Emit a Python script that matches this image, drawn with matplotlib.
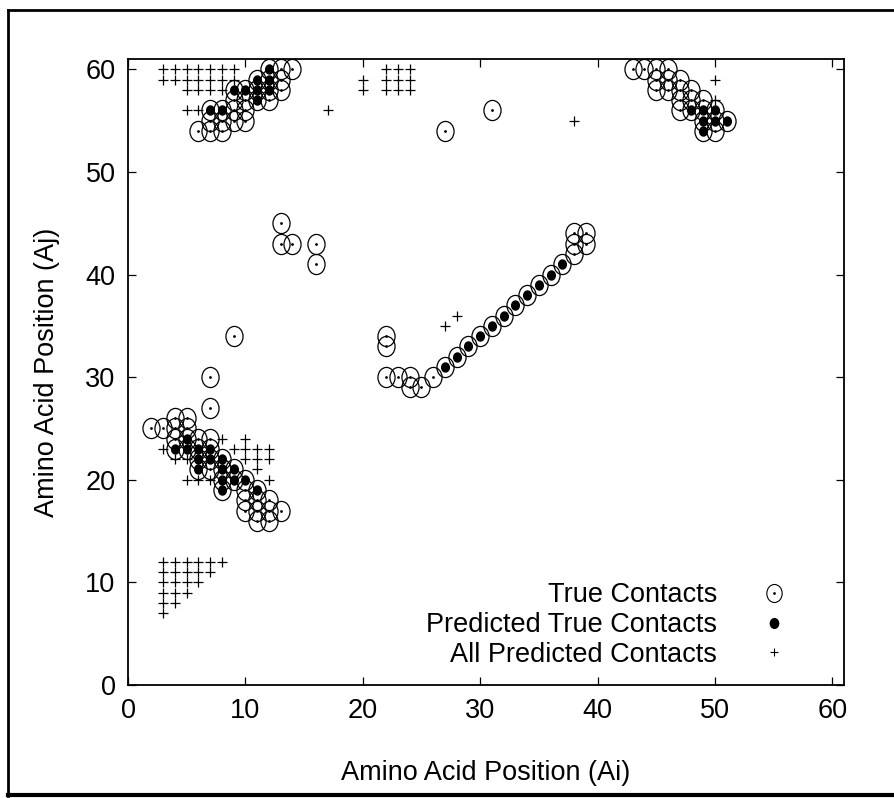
import matplotlib
matplotlib.use("Agg")
import matplotlib.pyplot as plt
from matplotlib.path import Path
from matplotlib.lines import Line2D
from matplotlib.legend_handler import HandlerTuple
import matplotlib.transforms as mtransforms

plt.rcParams['font.family'] = ['Liberation Sans', 'DejaVu Sans']

# ---------------- data ----------------
true_x = [6, 7, 8, 7, 8, 9, 10, 7, 8, 9, 10, 9, 10, 11, 12, 9, 10, 11, 12, 13,
          11, 12, 13, 12, 13, 14,
          43, 44, 45, 46, 45, 46, 47, 45, 46, 47, 48, 47, 48, 49, 47, 48, 49, 50,
          49, 50, 51, 49, 50,
          27, 31,
          13, 13, 14, 16, 16, 9, 7, 7,
          22, 22, 22, 23, 24, 24, 25, 26,
          27, 28, 29, 30, 31, 32, 33, 34, 35, 36, 37, 38, 38, 38, 39, 39,
          2, 3, 4, 5, 4, 5, 4, 5, 6, 7, 4, 5, 6, 7, 6, 7, 8, 6, 7, 8, 9,
          8, 9, 10, 8, 10, 11, 10, 11, 12, 10, 11, 12, 13, 11, 12]
true_y = [54, 54, 54, 55, 55, 55, 55, 56, 56, 56, 56, 57, 57, 57, 57, 58, 58, 58, 58, 58,
          59, 59, 59, 60, 60, 60,
          60, 60, 60, 60, 59, 59, 59, 58, 58, 58, 58, 57, 57, 57, 56, 56, 56, 56,
          55, 55, 55, 54, 54,
          54, 56,
          45, 43, 43, 43, 41, 34, 30, 27,
          34, 33, 30, 30, 30, 29, 29, 30,
          31, 32, 33, 34, 35, 36, 37, 38, 39, 40, 41, 42, 43, 44, 43, 44,
          25, 25, 26, 26, 25, 25, 24, 24, 24, 24, 23, 23, 23, 23, 22, 22, 22, 21, 21, 21, 21,
          20, 20, 20, 19, 19, 19, 18, 18, 18, 17, 17, 17, 17, 16, 16]

pred_true_x = [7, 8, 11, 9, 10, 11, 12, 11, 12, 12,
               48, 49, 50, 49, 50, 51, 49,
               27, 28, 29, 30, 31, 32, 33, 34, 35, 36, 37,
               5, 4, 5, 6, 7, 6, 7, 8, 6, 8, 9, 8, 9, 10, 8, 11]
pred_true_y = [56, 56, 57, 58, 58, 58, 58, 59, 59, 60,
               56, 56, 56, 55, 55, 55, 54,
               31, 32, 33, 34, 35, 36, 37, 38, 39, 40, 41,
               24, 23, 23, 23, 23, 22, 22, 22, 21, 21, 21, 20, 20, 20, 19, 19]

all_pred_x = [3, 4, 5, 6, 7, 8, 9, 3, 4, 5, 6, 7, 8, 9, 5, 6, 7, 8, 5, 6,
              20, 20, 22, 23, 24, 22, 23, 24, 22, 23, 24, 17, 38, 50, 50,
              27, 28,
              3, 8, 10, 9, 10, 11, 12, 4, 5, 10, 11, 12, 11, 5, 6, 7, 12,
              3, 4, 5, 6, 7, 8, 3, 4, 5, 6, 7, 3, 4, 5, 6, 3, 4, 5, 3, 4, 3]
all_pred_y = [60, 60, 60, 60, 60, 60, 60, 59, 59, 59, 59, 59, 59, 59, 58, 58, 58, 58, 56, 56,
              59, 58, 60, 60, 60, 59, 59, 59, 58, 58, 58, 56, 55, 59, 57,
              35, 36,
              23, 24, 24, 23, 23, 23, 23, 22, 22, 22, 22, 22, 21, 20, 20, 20, 20,
              12, 12, 12, 12, 12, 12, 11, 11, 11, 11, 11, 10, 10, 10, 10, 9, 9, 9, 8, 8, 7]

labels = ["True Contacts", "Predicted True Contacts", "All Predicted Contacts"]
x_label = "Amino Acid Position (Ai)"
y_label = "Amino Acid Position (Aj)"
ticks = [0, 10, 20, 30, 40, 50, 60]

# ---------------- figure ----------------
W, H = 894, 798
FS = 19.5
fig = plt.figure(figsize=(W / 100, H / 100), dpi=100)
ax = fig.add_axes([128 / W, 1 - 685 / H, (844 - 128) / W, (685 - 59) / H])

# elliptical marker (slightly narrower than tall)
ell = Path.unit_circle().transformed(mtransforms.Affine2D().scale(0.85, 1.0))

ax.plot(all_pred_x, all_pred_y, linestyle='none', marker='+', markersize=6.5,
        markeredgewidth=0.9, color='black', zorder=2)
ax.plot(true_x, true_y, linestyle='none', marker=ell, markersize=14.5,
        markerfacecolor='none', markeredgecolor='black', markeredgewidth=0.9, zorder=3)
ax.plot(true_x, true_y, linestyle='none', marker='o', markersize=1.0,
        color='black', zorder=3)
ax.plot(pred_true_x, pred_true_y, linestyle='none', marker=ell, markersize=6.5,
        color='black', zorder=4)

ax.set_xlim(0, 61)
ax.set_ylim(0, 61)
ax.set_xticks(ticks)
ax.set_yticks(ticks)
ax.tick_params(direction='in', length=6, width=0.9, top=True, right=True,
               labelsize=FS, pad=9)
for s in ax.spines.values():
    s.set_linewidth(1.3)

ax.set_xlabel(x_label, fontsize=FS, labelpad=26)
ax.set_ylabel(y_label, fontsize=FS, labelpad=18)

# legend handles
h_circ = Line2D([], [], linestyle='none', marker=ell, markersize=13, markerfacecolor='none',
                markeredgecolor='black', markeredgewidth=0.8)
h_dot = Line2D([], [], linestyle='none', marker='o', markersize=1.0, color='black')
h_fill = Line2D([], [], linestyle='none', marker=ell, markersize=7, color='black')
h_plus = Line2D([], [], linestyle='none', marker='+', markersize=6, markeredgewidth=0.8, color='black')
leg = ax.legend([(h_circ, h_dot), h_fill, h_plus], labels,
                handler_map={tuple: HandlerTuple(ndivide=1)},
                loc='lower right', bbox_to_anchor=(0.9665, 0.01),
                markerfirst=False, frameon=False, fontsize=FS,
                handlelength=2.6, handletextpad=0.8, labelspacing=0.14,
                borderaxespad=0.0)

# outer frame lines (figure border)
fig.add_artist(Line2D([8 / W, 8 / W], [1 - 10 / H, 1 - 796 / H], transform=fig.transFigure,
                      color='black', linewidth=2.0))
fig.add_artist(Line2D([8 / W, 1.0], [1 - 10 / H, 1 - 10 / H], transform=fig.transFigure,
                      color='black', linewidth=2.0))
fig.add_artist(Line2D([8 / W, 1.0], [1 - 795 / H, 1 - 795 / H], transform=fig.transFigure,
                      color='black', linewidth=3.0))

fig.savefig("out.png", dpi=100)
